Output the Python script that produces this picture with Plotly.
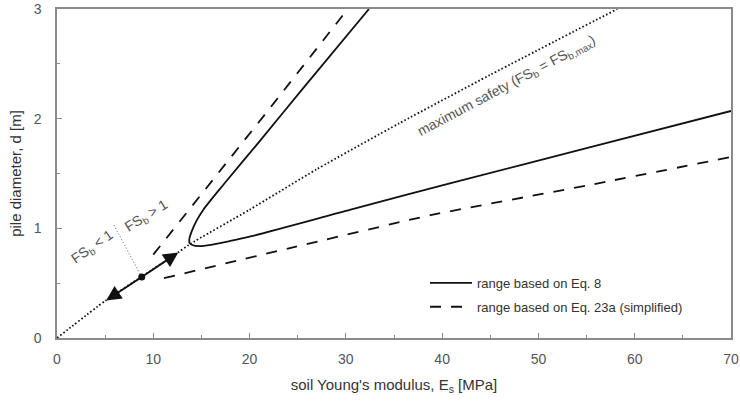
import plotly.graph_objects as go

# range based on Eq. 8 (one curve, upper branch -> vertex -> lower branch)
EQ8_E = [32.4, 25.4, 21.1, 17.3, 15.2, 14.5, 14.0, 13.75, 13.78, 14.1, 14.8, 16.0, 18.0, 20.1, 30.5, 40.8, 55.4, 70.0]
EQ8_D = [3.00, 2.26, 1.80, 1.40, 1.17, 1.07, 0.975, 0.905, 0.865, 0.846, 0.838, 0.85, 0.885, 0.926, 1.17, 1.41, 1.74, 2.07]

# range based on Eq. 23a (simplified), two branches
EQ23_UP_E = [10.0, 21.7, 30.2]
EQ23_UP_D = [0.76, 2.05, 3.00]
EQ23_LO_E = [11.1, 24.2, 38.8, 55.0, 70.0]
EQ23_LO_D = [0.545, 0.82, 1.12, 1.39, 1.65]

# maximum safety line (FS_b = FS_b,max)
MAX_E = [0.0, 5.1, 8.8, 12.6, 13.7, 20.0, 27.0, 35.6, 45.0, 58.2]
MAX_D = [0.0, 0.345, 0.56, 0.78, 0.85, 1.17, 1.54, 1.96, 2.40, 3.00]

# FS_b = 1 point and the two arrows leaving it
FS1_E = [8.8]
FS1_D = [0.556]
ARROW_TIPS = [(5.1, 0.343), (12.6, 0.78)]
DIVIDER_E = [5.9, 8.8]
DIVIDER_D = [1.03, 0.556]

X_TICKS = [0, 10, 20, 30, 40, 50, 60, 70]
Y_TICKS = [0, 1, 2, 3]

FONT = "Arial, Liberation Sans, Helvetica, sans-serif"
INK = "#111111"
GREY_TEXT = "#555555"
AXIS_GREY = "#8a8a8a"

fig = go.Figure()

fig.add_trace(go.Scatter(
    x=MAX_E, y=MAX_D, mode="lines", line=dict(color=INK, width=1.8, dash="1.6px,2.2px", shape="spline", smoothing=0.6),
    showlegend=False, hoverinfo="skip",
))
fig.add_trace(go.Scatter(
    x=DIVIDER_E, y=DIVIDER_D, mode="lines", line=dict(color="#777777", width=1, dash="1.2px,2px"),
    showlegend=False, hoverinfo="skip",
))
fig.add_trace(go.Scatter(
    x=EQ8_E, y=EQ8_D, mode="lines", name="range based on Eq. 8", legendgroup="a",
    line=dict(color=INK, width=1.8, shape="spline", smoothing=0.8),
))
fig.add_trace(go.Scatter(
    x=EQ23_UP_E, y=EQ23_UP_D, mode="lines", name="range based on Eq. 23a (simplified)", legendgroup="b",
    line=dict(color=INK, width=1.8, dash="11px,10px"),
))
fig.add_trace(go.Scatter(
    x=EQ23_LO_E, y=EQ23_LO_D, mode="lines", legendgroup="b", showlegend=False,
    line=dict(color=INK, width=1.8, dash="11px,10px", shape="spline", smoothing=0.5),
))
fig.add_trace(go.Scatter(
    x=FS1_E, y=FS1_D, mode="markers", marker=dict(color=INK, size=7), showlegend=False, hoverinfo="skip",
))

for tip_x, tip_y in ARROW_TIPS:
    fig.add_annotation(
        x=tip_x, y=tip_y, ax=FS1_E[0], ay=FS1_D[0], xref="x", yref="y", axref="x", ayref="y",
        text="", showarrow=True, arrowhead=2, arrowsize=1.5, arrowwidth=2, arrowcolor=INK,
    )

label_font = dict(family=FONT, size=14, color=GREY_TEXT)
fig.add_annotation(x=3.72, y=0.83, text="FS<sub>b</sub> &lt; 1", textangle=-35,
                   showarrow=False, font=label_font)
fig.add_annotation(x=9.33, y=1.11, text="FS<sub>b</sub> &gt; 1", textangle=-32,
                   showarrow=False, font=label_font)
fig.add_annotation(x=46.7, y=2.30, text="maximum safety (FS<sub>b</sub> = FS<sub>b,max</sub>)", textangle=-28,
                   showarrow=False, font=dict(family=FONT, size=14, color=GREY_TEXT))

axis_common = dict(
    showgrid=False, zeroline=False, showline=True, linecolor=AXIS_GREY, linewidth=1.5, mirror=True,
    ticks="inside", ticklen=5, tickwidth=1, tickcolor=AXIS_GREY, automargin=False,
    tickfont=dict(family=FONT, size=14, color=GREY_TEXT),
)

fig.update_layout(
    width=740, height=404,
    margin=dict(l=57, r=9, t=9, b=66),
    paper_bgcolor="white", plot_bgcolor="white",
    font=dict(family=FONT, color="#333333"),
    xaxis=dict(
        range=[0, 70], tickvals=X_TICKS,
        minor=dict(ticks="inside", ticklen=3, dtick=5, tickcolor=AXIS_GREY),
        title=dict(text="soil Young's modulus, E<sub>s</sub> [MPa]", font=dict(family=FONT, size=15, color="#333333"), standoff=14),
        ticklabelstandoff=7,
        **axis_common,
    ),
    yaxis=dict(
        range=[0, 3], tickvals=Y_TICKS,
        minor=dict(ticks="inside", ticklen=3, dtick=0.5, tickcolor=AXIS_GREY),
        title=dict(text="pile diameter, d [m]", font=dict(family=FONT, size=15, color="#333333"), standoff=8),
        ticklabelstandoff=11,
        **axis_common,
    ),
    legend=dict(
        x=0.546, y=0.213, xanchor="left", yanchor="top", itemwidth=42,
        bgcolor="rgba(0,0,0,0)", font=dict(family=FONT, size=13, color="#333333"),
        tracegroupgap=4,
    ),
)

# the page's default 8px body margin would shift the 740x404 figure off the window
fig.write_html(
    "out.html",
    config={"displayModeBar": False},
    post_script="document.body.style.margin = '0';",
)
